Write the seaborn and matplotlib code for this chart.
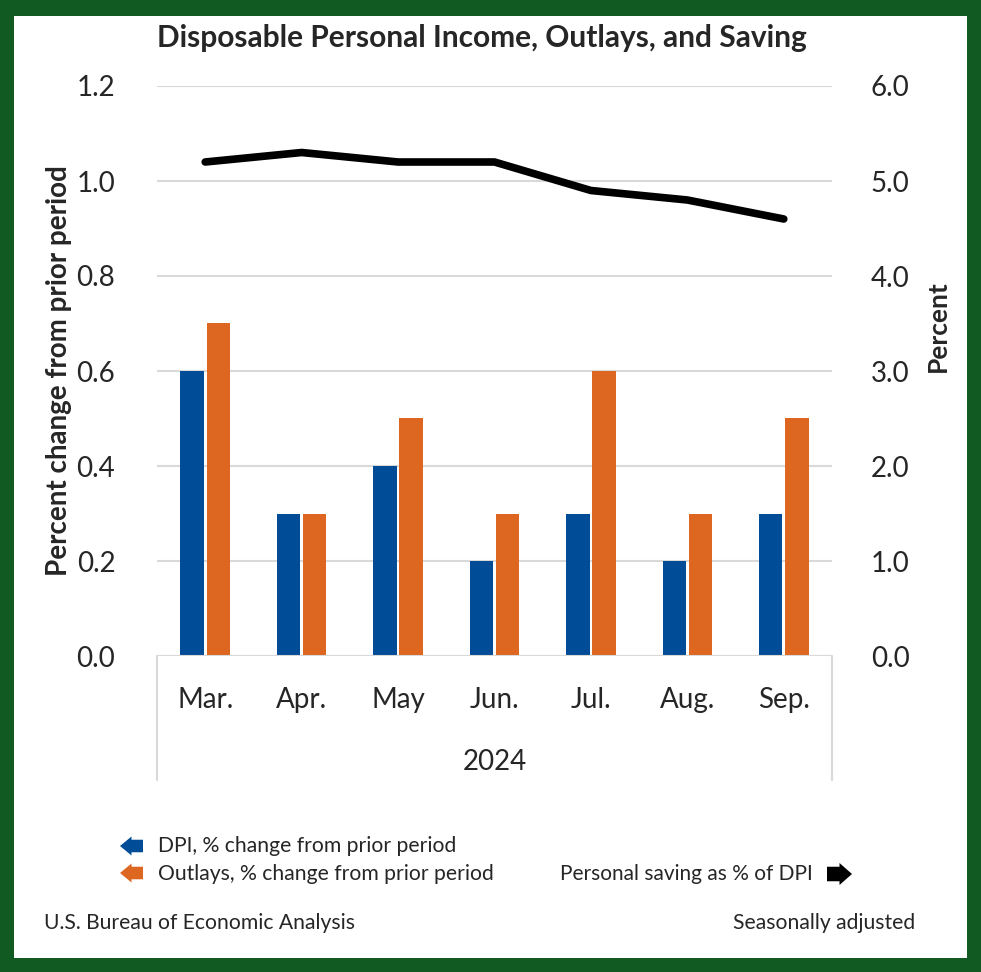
import numpy as np
import pandas as pd
import seaborn as sns
import matplotlib.pyplot as plt
from matplotlib.patches import Rectangle, Polygon

months = ['Mar.', 'Apr.', 'May', 'Jun.', 'Jul.', 'Aug.', 'Sep.']
dpi_change = [0.6, 0.3, 0.4, 0.2, 0.3, 0.2, 0.3]
outlays_change = [0.7, 0.3, 0.5, 0.3, 0.6, 0.3, 0.5]
saving_rate = [5.2, 5.3, 5.2, 5.2, 4.9, 4.8, 4.6]

left_ticks = [0.0, 0.2, 0.4, 0.6, 0.8, 1.0, 1.2]
right_ticks = [0.0, 1.0, 2.0, 3.0, 4.0, 5.0, 6.0]

BLUE = '#004c97'
ORANGE = '#dd6620'
GREEN = '#115a22'
GRID = '#d9d9d9'
W, H = 981, 972

sns.set_style('white')
plt.rcParams['font.family'] = ['Lato', 'DejaVu Sans']

bars = pd.DataFrame({
    'Month': months * 2,
    'Value': dpi_change + outlays_change,
    'Series': ['DPI'] * len(months) + ['Outlays'] * len(months),
})


def block_arrow(fig, x0, x1, yc, h, color, pointing='left'):
    """Block arrow legend icon, given in pixels from the top-left."""
    head = (x1 - x0) * 0.5
    sh = h * 0.33
    if pointing == 'left':
        pts = [(x0, yc), (x0 + head, yc - h / 2), (x0 + head, yc - sh), (x1, yc - sh),
               (x1, yc + sh), (x0 + head, yc + sh), (x0 + head, yc + h / 2)]
    else:
        pts = [(x1, yc), (x1 - head, yc - h / 2), (x1 - head, yc - sh), (x0, yc - sh),
               (x0, yc + sh), (x1 - head, yc + sh), (x1 - head, yc + h / 2)]
    pts = [(px / W, 1 - py / H) for px, py in pts]
    fig.patches.append(Polygon(pts, closed=True, transform=fig.transFigure,
                               facecolor=color, edgecolor='none'))


fig = plt.figure(figsize=(W / 100, H / 100), dpi=100)
fig.patch.set_facecolor(GREEN)
fig.patches.append(Rectangle((14 / W, 14 / H), 1 - 28 / W, 1 - 30 / H,
                             transform=fig.transFigure, facecolor='white',
                             edgecolor='none', zorder=-10))

ax = fig.add_axes([157 / W, 1 - 656 / H, (832 - 157) / W, (656 - 86) / H])
ax.set_facecolor('none')
sns.barplot(data=bars, x='Month', y='Value', hue='Series', order=months,
            palette=[BLUE, ORANGE], saturation=1, width=0.54, gap=0.1, linewidth=0,
            legend=False, ax=ax)
ax.set_ylim(0, 1.2)
ax.set_xlim(-0.5, len(months) - 0.5)
ax.set_yticks(left_ticks)
ax.set_yticklabels([f'{t:.1f}' for t in left_ticks])
ax.yaxis.grid(True, color=GRID, linewidth=1.5)
ax.set_axisbelow(True)
for s in ax.spines.values():
    s.set_visible(False)
ax.tick_params(axis='y', length=0, pad=30, labelsize=20)
ax.tick_params(axis='x', length=0, pad=22, labelsize=20)
ax.set_xlabel('')
ax.set_ylabel('Percent change from prior period', fontsize=20, fontweight='bold', labelpad=3)

# category box below the plot
box_depth = (780 - 656) / (656 - 86) * 1.2
for xb in [-0.5, len(months) - 0.5]:
    ax.plot([xb, xb], [0, -box_depth], color=GRID, lw=1.5, clip_on=False)
ax.axhline(0, color=GRID, lw=1.5)
ax.text(0.5, -(762 - 656) / (656 - 86), '2024', transform=ax.transAxes,
        ha='center', va='center', fontsize=20)

ax2 = ax.twinx()
sns.lineplot(x=np.arange(len(months)), y=saving_rate, color='black', lw=5.5,
             solid_capstyle='round', solid_joinstyle='round', ax=ax2)
ax2.set_ylim(0, 6)
ax2.set_yticks(right_ticks)
ax2.set_yticklabels([f'{t:.1f}' for t in right_ticks])
for s in ax2.spines.values():
    s.set_visible(False)
ax2.tick_params(axis='y', length=0, pad=28, labelsize=20)
ax2.set_ylabel('')
fig.text(938 / W, 1 - 326 / H, 'Percent', rotation=90, ha='center', va='center',
         fontsize=19, fontweight='bold')

fig.text(482 / W, 1 - 38 / H, 'Disposable Personal Income, Outlays, and Saving',
         ha='center', va='center', fontsize=21.5, fontweight='bold')

# legend
block_arrow(fig, 120, 143, 846, 19, BLUE, 'left')
block_arrow(fig, 120, 143, 873, 19, ORANGE, 'left')
fig.text(158 / W, 1 - 846 / H, 'DPI, % change from prior period', ha='left',
         va='center', fontsize=15.2)
fig.text(158 / W, 1 - 874 / H, 'Outlays, % change from prior period', ha='left',
         va='center', fontsize=15.2)
fig.text(813 / W, 1 - 874 / H, 'Personal saving as % of DPI', ha='right',
         va='center', fontsize=15)
block_arrow(fig, 827, 852, 874, 22, 'black', 'right')

fig.text(44 / W, 1 - 923 / H, 'U.S. Bureau of Economic Analysis', ha='left',
         va='center', fontsize=15.2)
fig.text(915 / W, 1 - 923 / H, 'Seasonally adjusted', ha='right',
         va='center', fontsize=15.2)

fig.savefig('out.png', dpi=100, facecolor=fig.get_facecolor())
